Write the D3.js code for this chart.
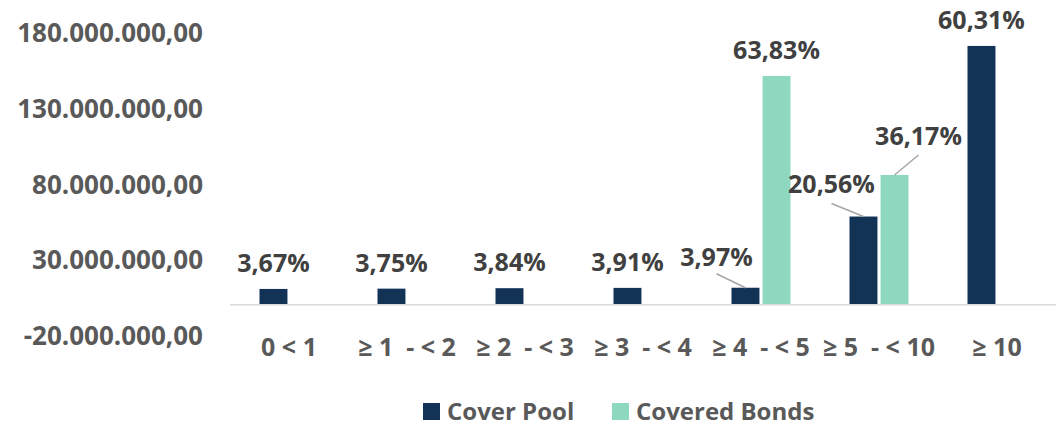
<!DOCTYPE html>
<html>
<head>
<meta charset="utf-8">
<script src="https://cdn.jsdelivr.net/npm/d3@7"></script>
<style>
  body { margin: 0; background: #fff; }
  text { font-family: "Open Sans", sans-serif; font-weight: bold; }
</style>
</head>
<body>
<script>
// categories and series
const categories = ['0 < 1', '≥ 1  - < 2', '≥ 2  - < 3', '≥ 3  - < 4', '≥ 4  - < 5', '≥ 5  - < 10', '≥ 10'];
const seriesNames = ['Cover Pool', 'Covered Bonds'];
const coverPool = [10400000, 10600000, 10900000, 11100000, 11200000, 58200000, 170800000];
const coveredBonds = [null, null, null, null, 151000000, 85600000, null];
const coverPoolPct = ['3,67%', '3,75%', '3,84%', '3,91%', '3,97%', '20,56%', '60,31%'];
const coveredBondsPct = [null, null, null, null, '63,83%', '36,17%', null];
const yTicks = [-20000000, 30000000, 80000000, 130000000, 180000000];

const colors = ['#133356', '#8DD8BF'];

const width = 1062;
const height = 425;

const svg = d3.select('body')
  .append('svg')
  .attr('width', width)
  .attr('height', height);

// scales
const x0 = d3.scaleBand()
  .domain(categories)
  .range([230, 1056])
  .paddingInner(0.5)
  .paddingOuter(0.25);

const x1 = d3.scaleBand()
  .domain(seriesNames)
  .range([0, x0.bandwidth()])
  .paddingInner(0.1);

const y = d3.scaleLinear()
  .domain([-20000000, 180000000])
  .range([335, 32]);

// y tick labels (no axis line), european number format with hyphen minus
const fmt = (v) => d3.format(',.2f')(v)
  .replace(/,/g, '#').replace('.', ',').replace(/#/g, '.').replace('\u2212', '-');
svg.selectAll('.ytick')
  .data(yTicks)
  .join('text')
  .attr('class', 'ytick')
  .attr('x', 203)
  .attr('y', (d) => y(d))
  .attr('text-anchor', 'end')
  .attr('dominant-baseline', 'central')
  .attr('fill', '#595959')
  .style('font-size', '26px')
  .text((d) => fmt(d));

// bars
const rows = categories.map((c, i) => ({ cat: c, vals: [coverPool[i], coveredBonds[i]], pct: [coverPoolPct[i], coveredBondsPct[i]] }));

const groups = svg.selectAll('.grp')
  .data(rows)
  .join('g')
  .attr('class', 'grp')
  .attr('transform', (d) => `translate(${x0(d.cat)},0)`);

groups.selectAll('rect')
  .data((d) => d.vals.map((v, j) => ({ v, j })).filter((e) => e.v !== null))
  .join('rect')
  .attr('x', (e) => x1(seriesNames[e.j]))
  .attr('width', x1.bandwidth())
  .attr('y', (e) => y(e.v))
  .attr('height', (e) => y(0) - y(e.v))
  .attr('fill', (e) => colors[e.j]);

// x axis baseline
svg.append('line')
  .attr('x1', 230)
  .attr('x2', 1056)
  .attr('y1', y(0))
  .attr('y2', y(0))
  .attr('stroke', '#d9d9d9')
  .attr('stroke-width', 1.5);

// x labels
svg.selectAll('.xlab')
  .data(categories)
  .join('text')
  .attr('class', 'xlab')
  .attr('x', (d) => x0(d) + x0.bandwidth() / 2)
  .attr('y', 346)
  .attr('text-anchor', 'middle')
  .attr('dominant-baseline', 'central')
  .attr('fill', '#595959')
  .style('font-size', '25px')
  .style('white-space', 'pre')
  .text((d) => d);

// data labels; some were dragged off the bar, with a leader line
const moved = {
  '4-0': { dx: -29, dy: -32, line: [[-29, -14], [0, 0]] },
  '5-0': { dx: -32, dy: -34, line: [[-32, -13], [0, 0]] },
  '5-1': { dx: 24, dy: -40, line: [[24, -20], [0, 0]] }
};

const labels = [];
rows.forEach((r, i) => {
  r.vals.forEach((v, j) => {
    if (v === null) return;
    const cx = x0(r.cat) + x1(seriesNames[j]) + x1.bandwidth() / 2;
    const top = y(v);
    labels.push({ key: `${i}-${j}`, cx, top, text: r.pct[j] });
  });
});

labels.forEach((l) => {
  const m = moved[l.key];
  if (m) {
    svg.append('line')
      .attr('x1', l.cx + m.line[0][0])
      .attr('y1', l.top + m.line[0][1])
      .attr('x2', l.cx + m.line[1][0])
      .attr('y2', l.top + m.line[1][1])
      .attr('stroke', '#a6a6a6')
      .attr('stroke-width', 1.5);
  }
  svg.append('text')
    .attr('x', l.cx + (m ? m.dx : 0))
    .attr('y', l.top + (m ? m.dy : -27))
    .attr('text-anchor', 'middle')
    .attr('dominant-baseline', 'central')
    .attr('fill', '#404040')
    .style('font-size', '25px')
    .text(l.text);
});

// legend
const legend = svg.append('g');
const legendX = [423, 612];
seriesNames.forEach((s, i) => {
  legend.append('rect')
    .attr('x', legendX[i])
    .attr('y', 403)
    .attr('width', 17)
    .attr('height', 17)
    .attr('fill', colors[i]);
  legend.append('text')
    .attr('x', legendX[i] + 24)
    .attr('y', 410)
    .attr('dominant-baseline', 'central')
    .attr('fill', '#595959')
    .style('font-size', '24px')
    .text(s);
});
</script>
</body>
</html>
